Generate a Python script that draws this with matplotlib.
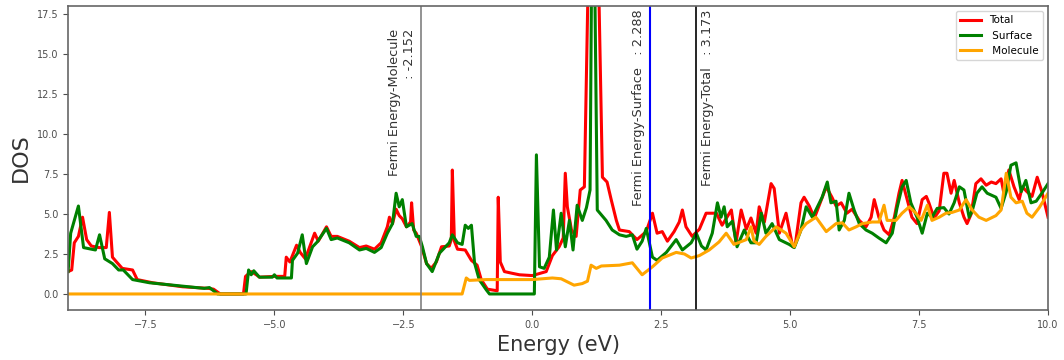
import numpy as np
import matplotlib
matplotlib.use("Agg")
import matplotlib.pyplot as plt

# energies / DOS
total_e = [-9.0, -8.93, -8.88, -8.80, -8.72, -8.64, -8.55, -8.40, -8.26, -8.20, -8.14, -8.06, -7.95,
           -7.75, -7.66, -7.36, -6.78, -6.28, -6.18, -6.05, -5.60, -5.56, -5.45, -5.35, -5.29, -5.0,
           -4.80, -4.77, -4.70, -4.57, -4.50, -4.40, -4.22, -4.15, -3.99, -3.90, -3.78, -3.55, -3.35,
           -3.22, -3.06, -2.93, -2.81, -2.77, -2.71, -2.64, -2.58, -2.52, -2.44, -2.36, -2.34, -2.30,
           -2.25, -2.15, -2.05, -1.96, -1.86, -1.76, -1.61, -1.57, -1.55, -1.51, -1.45, -1.30, -1.18,
           -1.07, -0.99, -0.87, -0.68, -0.66, -0.62, -0.54, -0.40, -0.25, 0.0, 0.27, 0.39, 0.52, 0.60,
           0.64, 0.68, 0.76, 0.85, 0.93, 1.01, 1.08, 1.13, 1.24, 1.29, 1.36, 1.45, 1.53, 1.63, 1.69,
           1.88, 2.03, 2.21, 2.33, 2.42, 2.52, 2.62, 2.75, 2.85, 2.91, 2.98, 3.10, 3.24, 3.37, 3.57,
           3.68, 3.86, 3.95, 4.05, 4.15, 4.24, 4.34, 4.40, 4.50, 4.63, 4.69, 4.79, 4.92, 5.05, 5.10,
           5.21, 5.27, 5.37, 5.47, 5.60, 5.70, 5.81, 5.89, 5.99, 6.10, 6.20, 6.34, 6.47, 6.57, 6.63,
           6.72, 6.82, 6.92, 7.02, 7.11, 7.17, 7.27, 7.36, 7.46, 7.56, 7.64, 7.69, 7.79, 7.89, 7.98,
           8.04, 8.12, 8.18, 8.28, 8.37, 8.43, 8.51, 8.60, 8.70, 8.80, 8.90, 8.99, 9.09, 9.15, 9.24,
           9.34, 9.44, 9.50, 9.59, 9.69, 9.79, 9.88, 10.0]
total_dos = [1.4, 1.5, 3.2, 3.6, 4.8, 3.4, 3.0, 2.9, 2.9, 5.1, 2.3, 2.0, 1.6,
             1.5, 0.9, 0.7, 0.45, 0.35, 0.3, 0.0, 0.0, 1.1, 1.4, 1.2, 1.05, 1.1,
             1.1, 2.3, 2.0, 3.05, 2.6, 2.2, 3.8, 3.3, 4.2, 3.6, 3.6, 3.3, 2.9,
             3.0, 2.8, 3.2, 4.2, 4.8, 4.4, 5.3, 4.9, 4.7, 4.2, 4.5, 5.7, 4.0,
             3.8, 3.0, 1.9, 1.6, 2.0, 2.95, 3.0, 3.4, 7.75, 3.3, 2.8, 2.75, 2.1,
             1.8, 0.9, 0.3, 0.2, 6.05, 2.0, 1.4, 1.3, 1.2, 1.15, 1.4, 2.4, 2.95, 3.5,
             7.55, 5.45, 4.0, 3.6, 6.5, 6.7, 19.0, 26.0, 26.0, 19.0, 7.3, 7.0, 5.9, 4.6, 4.0,
             3.9, 3.4, 3.9, 5.05, 3.8, 3.9, 3.3, 3.9, 4.5, 5.25, 4.2, 3.6, 4.05, 5.05, 5.05,
             4.3, 5.25, 3.2, 5.25, 4.05, 4.75, 3.8, 5.45, 4.5, 6.9, 6.6, 3.8, 5.05, 2.95, 3.1,
             5.7, 6.05, 5.5, 4.75, 5.85, 6.7, 6.05, 5.5, 5.7, 5.05, 5.3, 4.6, 4.2, 4.8, 5.9,
             4.8, 4.0, 3.7, 4.8, 6.3, 7.1, 5.9, 4.8, 4.4, 5.9, 6.1, 5.7, 4.75, 5.2, 7.55,
             7.55, 6.3, 7.1, 5.7, 4.8, 4.4, 5.0, 6.9, 7.2, 6.8, 7.0, 6.9, 7.2, 6.2, 7.75,
             6.7, 5.9, 6.7, 6.4, 6.1, 7.3, 6.4, 4.8]

surface_e = [-9.0, -8.95, -8.80, -8.70, -8.47, -8.39, -8.29, -8.14, -8.02, -7.93, -7.75, -7.42, -6.36,
             -6.26, -6.10, -5.55, -5.50, -5.45, -5.40, -5.29, -5.04, -5.00, -4.95, -4.67, -4.65, -4.55,
             -4.46, -4.38, -4.26, -4.17, -3.99, -3.90, -3.78, -3.55, -3.35, -3.22, -3.06, -2.93, -2.81,
             -2.71, -2.64, -2.58, -2.52, -2.44, -2.33, -2.25, -2.19, -2.13, -2.05, -1.94, -1.80, -1.61,
             -1.55, -1.45, -1.36, -1.30, -1.24, -1.18, -1.12, -1.03, -0.89, -0.83, 0.04, 0.08, 0.14,
             0.23, 0.33, 0.41, 0.47, 0.56, 0.64, 0.72, 0.79, 0.87, 0.97, 1.05, 1.12, 1.15, 1.18, 1.21,
             1.26, 1.43, 1.55, 1.69, 1.82, 1.94, 2.03, 2.13, 2.21, 2.33, 2.42, 2.60, 2.79, 2.91, 3.08,
             3.18, 3.28, 3.37, 3.49, 3.59, 3.66, 3.72, 3.78, 3.88, 3.97, 4.11, 4.24, 4.34, 4.44, 4.53,
             4.65, 4.79, 4.98, 5.08, 5.21, 5.31, 5.43, 5.62, 5.72, 5.79, 5.89, 5.95, 6.05, 6.14, 6.24,
             6.34, 6.47, 6.59, 6.72, 6.86, 6.98, 7.07, 7.17, 7.25, 7.34, 7.46, 7.56, 7.66, 7.75, 7.85,
             7.98, 8.08, 8.18, 8.28, 8.37, 8.47, 8.53, 8.62, 8.72, 8.82, 8.99, 9.09, 9.19, 9.28, 9.38,
             9.48, 9.57, 9.67, 9.77, 9.88, 10.0]
surface_dos = [1.4, 3.8, 5.5, 2.9, 2.75, 3.7, 2.2, 1.9, 1.5, 1.5, 0.9, 0.7, 0.35,
               0.4, 0.0, 0.0, 1.5, 1.2, 1.45, 1.05, 1.05, 1.2, 1.0, 1.0, 2.1, 2.55,
               3.7, 1.9, 2.95, 3.25, 4.1, 3.4, 3.5, 3.2, 2.75, 2.85, 2.6, 2.9, 3.8,
               4.4, 6.3, 5.45, 5.9, 4.2, 4.4, 3.6, 3.6, 2.95, 1.9, 1.4, 2.55, 3.2,
               3.7, 3.2, 3.1, 4.3, 4.1, 4.3, 1.95, 0.9, 0.25, 0.0, 0.0, 8.7, 1.7,
               1.6, 2.3, 5.25, 2.75, 5.05, 2.95, 4.6, 2.75, 5.55, 4.6, 5.4, 6.5, 20.0, 24.0, 20.0,
               5.25, 4.6, 4.0, 3.7, 3.6, 3.7, 2.8, 3.3, 4.1, 2.3, 2.1, 2.6, 3.4, 2.75, 3.2,
               3.8, 3.0, 2.75, 3.8, 5.7, 4.8, 5.45, 4.2, 4.55, 2.95, 4.0, 3.2, 3.2, 5.05, 3.8,
               4.4, 3.4, 3.1, 2.9, 4.0, 5.45, 4.8, 6.05, 7.0, 5.7, 5.8, 4.0, 4.6, 6.3, 5.25,
               4.4, 4.0, 3.8, 3.5, 3.2, 3.8, 5.35, 6.7, 7.1, 5.7, 4.8, 3.8, 5.05, 4.8, 5.35,
               5.4, 5.0, 5.7, 6.7, 6.5, 4.8, 5.2, 6.3, 6.7, 6.3, 6.05, 5.35, 6.4, 8.05, 8.2,
               6.4, 7.1, 5.7, 5.8, 6.3, 6.9]

molecule_e = [-9.0, -1.36, -1.28, -1.22, -0.89, 0.0, 0.39, 0.56, 0.81, 0.97, 1.07, 1.14, 1.24, 1.34,
              1.69, 1.94, 2.13, 2.33, 2.52, 2.79, 2.95, 3.08, 3.24, 3.43, 3.62, 3.76, 3.91, 4.15,
              4.24, 4.30, 4.40, 4.53, 4.73, 4.92, 5.08, 5.21, 5.31, 5.50, 5.70, 5.89, 6.01, 6.14,
              6.28, 6.40, 6.59, 6.72, 6.82, 6.88, 7.05, 7.17, 7.31, 7.44, 7.54, 7.66, 7.75, 7.89,
              8.02, 8.14, 8.28, 8.41, 8.53, 8.66, 8.80, 8.99, 9.09, 9.19, 9.28, 9.38, 9.50, 9.59,
              9.69, 9.83, 10.0]
molecule_dos = [0.0, 0.0, 1.0, 0.85, 0.9, 0.9, 1.0, 0.95, 0.55, 0.65, 0.8, 1.8, 1.6, 1.75,
                1.8, 1.95, 1.2, 1.7, 2.25, 2.6, 2.5, 2.25, 2.4, 2.75, 3.25, 3.8, 3.1, 3.4,
                4.2, 3.3, 3.1, 3.6, 4.2, 3.8, 2.95, 4.0, 4.4, 4.8, 3.9, 4.4, 4.45, 4.0,
                4.2, 4.4, 4.5, 4.5, 5.55, 4.6, 4.6, 5.05, 5.45, 5.05, 4.6, 5.55, 4.6, 4.8,
                5.05, 5.1, 5.25, 5.9, 5.25, 4.8, 4.6, 4.9, 5.25, 7.55, 6.05, 5.7, 5.8, 5.05,
                4.8, 5.4, 6.3]

ef_molecule = -2.152
ef_surface = 2.288
ef_total = 3.173

fig = plt.figure(figsize=(10.64, 3.6), dpi=100)
ax = fig.add_axes([0.064, 0.139, 0.921, 0.844])

ax.plot(total_e, total_dos, color='red', lw=2.2, label='Total')
ax.plot(surface_e, surface_dos, color='green', lw=2.2, label=' Surface')
ax.plot(molecule_e, molecule_dos, color='orange', lw=2.2, label=' Molecule')

ax.axvline(ef_molecule, color='gray', lw=1.2)
ax.axvline(ef_surface, color='blue', lw=1.5)
ax.axvline(ef_total, color='black', lw=1.2)

ax.text(ef_molecule - 0.1, 16.6, 'Fermi Energy-Molecule\n : %.3f' % ef_molecule,
        rotation=90, ha='right', va='top', multialignment='right', fontsize=9.3, color='0.2')
ax.text(ef_surface - 0.1, 17.8, 'Fermi Energy-Surface   : %.3f' % ef_surface,
        rotation=90, ha='right', va='top', fontsize=9.3, color='0.2')
ax.text(ef_total + 0.1, 17.8, 'Fermi Energy-Total   : %.3f' % ef_total,
        rotation=90, ha='left', va='top', fontsize=9.3, color='0.2')

ax.set_xlim(-9, 10)
ax.set_ylim(-1, 18)
ax.set_xlabel('Energy (eV)', fontsize=15, color='0.2')
ax.set_ylabel('DOS', fontsize=16, color='0.2')
ax.tick_params(labelsize=7, colors='0.3')
for s in ax.spines.values():
    s.set_color('0.4')
    s.set_linewidth(1.2)

ax.legend(loc='upper right', fontsize=7.5)

fig.savefig('out.png', dpi=100)
